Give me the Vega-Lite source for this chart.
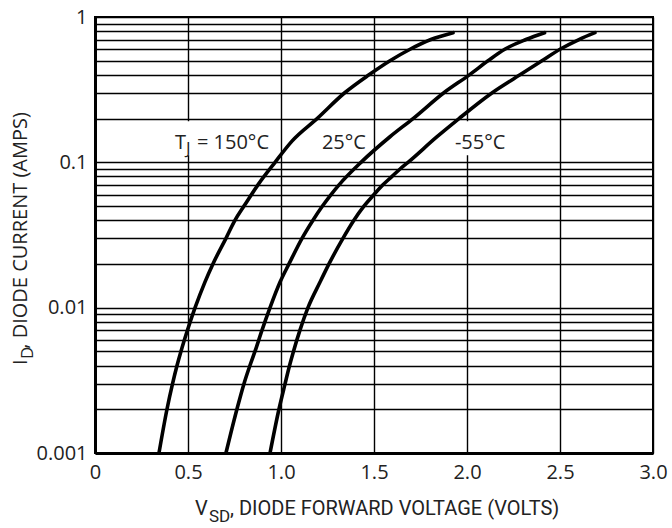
{
  "$schema": "https://vega.github.io/schema/vega-lite/v6.json",
  "width": 558,
  "height": 436,
  "autosize": "none",
  "padding": {"left": 95, "top": 17, "right": 19, "bottom": 75},
  "background": "white",
  "config": {
    "font": "Open Sans, sans-serif",
    "view": {"stroke": "black", "strokeWidth": 2},
    "axis": {
      "grid": true,
      "gridColor": "black",
      "gridWidth": 1.4,
      "gridOpacity": 1,
      "ticks": false,
      "domainColor": "black",
      "domainWidth": 3,
      "labelFontSize": 20,
      "labelColor": "#222222",
      "labelFlush": false,
      "labelOverlap": false,
      "labelFont": "Open Sans, sans-serif"
    }
  },
  "datasets": {
    "curves": [
      {"T": "150", "V": 0.344, "I": 0.001},
      {"T": "150", "V": 0.387, "I": 0.002},
      {"T": "150", "V": 0.417, "I": 0.003},
      {"T": "150", "V": 0.441, "I": 0.004},
      {"T": "150", "V": 0.462, "I": 0.005},
      {"T": "150", "V": 0.497, "I": 0.007},
      {"T": "150", "V": 0.538, "I": 0.01},
      {"T": "150", "V": 0.591, "I": 0.015},
      {"T": "150", "V": 0.634, "I": 0.02},
      {"T": "150", "V": 0.704, "I": 0.03},
      {"T": "150", "V": 0.753, "I": 0.04},
      {"T": "150", "V": 0.801, "I": 0.05},
      {"T": "150", "V": 0.876, "I": 0.07},
      {"T": "150", "V": 0.968, "I": 0.1},
      {"T": "150", "V": 1.059, "I": 0.14},
      {"T": "150", "V": 1.194, "I": 0.2},
      {"T": "150", "V": 1.341, "I": 0.3},
      {"T": "150", "V": 1.473, "I": 0.4},
      {"T": "150", "V": 1.586, "I": 0.5},
      {"T": "150", "V": 1.694, "I": 0.6},
      {"T": "150", "V": 1.806, "I": 0.7},
      {"T": "150", "V": 1.925, "I": 0.78},
      {"T": "25", "V": 0.704, "I": 0.001},
      {"T": "25", "V": 0.763, "I": 0.002},
      {"T": "25", "V": 0.801, "I": 0.003},
      {"T": "25", "V": 0.833, "I": 0.004},
      {"T": "25", "V": 0.860, "I": 0.005},
      {"T": "25", "V": 0.898, "I": 0.007},
      {"T": "25", "V": 0.941, "I": 0.01},
      {"T": "25", "V": 0.995, "I": 0.015},
      {"T": "25", "V": 1.043, "I": 0.02},
      {"T": "25", "V": 1.113, "I": 0.03},
      {"T": "25", "V": 1.172, "I": 0.04},
      {"T": "25", "V": 1.223, "I": 0.05},
      {"T": "25", "V": 1.269, "I": 0.06},
      {"T": "25", "V": 1.312, "I": 0.07},
      {"T": "25", "V": 1.430, "I": 0.1},
      {"T": "25", "V": 1.586, "I": 0.15},
      {"T": "25", "V": 1.710, "I": 0.2},
      {"T": "25", "V": 1.874, "I": 0.3},
      {"T": "25", "V": 2.013, "I": 0.4},
      {"T": "25", "V": 2.113, "I": 0.5},
      {"T": "25", "V": 2.203, "I": 0.6},
      {"T": "25", "V": 2.317, "I": 0.7},
      {"T": "25", "V": 2.417, "I": 0.78},
      {"T": "-55", "V": 0.941, "I": 0.001},
      {"T": "-55", "V": 0.989, "I": 0.002},
      {"T": "-55", "V": 1.022, "I": 0.003},
      {"T": "-55", "V": 1.046, "I": 0.004},
      {"T": "-55", "V": 1.067, "I": 0.005},
      {"T": "-55", "V": 1.102, "I": 0.007},
      {"T": "-55", "V": 1.145, "I": 0.01},
      {"T": "-55", "V": 1.210, "I": 0.015},
      {"T": "-55", "V": 1.258, "I": 0.02},
      {"T": "-55", "V": 1.333, "I": 0.03},
      {"T": "-55", "V": 1.392, "I": 0.04},
      {"T": "-55", "V": 1.446, "I": 0.05},
      {"T": "-55", "V": 1.500, "I": 0.06},
      {"T": "-55", "V": 1.548, "I": 0.07},
      {"T": "-55", "V": 1.597, "I": 0.08},
      {"T": "-55", "V": 1.640, "I": 0.09},
      {"T": "-55", "V": 1.683, "I": 0.1},
      {"T": "-55", "V": 1.839, "I": 0.15},
      {"T": "-55", "V": 1.957, "I": 0.2},
      {"T": "-55", "V": 2.134, "I": 0.3},
      {"T": "-55", "V": 2.285, "I": 0.4},
      {"T": "-55", "V": 2.403, "I": 0.5},
      {"T": "-55", "V": 2.500, "I": 0.6},
      {"T": "-55", "V": 2.602, "I": 0.7},
      {"T": "-55", "V": 2.688, "I": 0.78}
    ],
    "bg": [
      {"V": 0.40, "V2": 0.93, "I": 0.112, "I2": 0.192},
      {"V": 1.91, "V2": 2.23, "I": 0.112, "I2": 0.192}
    ],
    "labels": [
      {"t": "T", "V": 0.430, "I": 0.1235},
      {"t": "= 150°C", "V": 0.548, "I": 0.1235},
      {"t": "25°C", "V": 1.22, "I": 0.1235},
      {"t": "-55°C", "V": 1.935, "I": 0.1235}
    ],
    "sublabels": [
      {"t": "J", "V": 0.489, "I": 0.1139}
    ],
    "xtitle": [
      {"t": "V", "V": 0.538, "I": 0.000374},
      {"t": ", DIODE FORWARD VOLTAGE (VOLTS)", "V": 0.726, "I": 0.000374}
    ],
    "xsub": [
      {"t": "SD", "V": 0.613, "I": 0.000336}
    ],
    "ytitle": [
      {"t": "I", "V": -0.366, "I": 0.00403},
      {"t": ", DIODE CURRENT (AMPS)", "V": -0.366, "I": 0.00522}
    ],
    "ysub": [
      {"t": "D", "V": -0.333, "I": 0.00443}
    ]
  },
  "encoding": {
    "x": {
      "field": "V",
      "type": "quantitative",
      "scale": {"domain": [0, 3], "nice": false, "zero": false},
      "axis": {
        "title": null,
        "values": [0, 0.5, 1, 1.5, 2, 2.5, 3],
        "labelExpr": "datum.value == 0 ? '0' : format(datum.value, '.1f')",
        "labelPadding": 9
      }
    },
    "y": {
      "field": "I",
      "type": "quantitative",
      "scale": {"type": "log", "domain": [0.001, 1], "nice": false},
      "axis": {
        "title": null,
        "format": "~g",
        "values": [0.001, 0.002, 0.003, 0.004, 0.005, 0.006, 0.007, 0.008, 0.009, 0.01, 0.02, 0.03, 0.04, 0.05, 0.06, 0.07, 0.08, 0.09, 0.1, 0.2, 0.3, 0.4, 0.5, 0.6, 0.7, 0.8, 0.9, 1],
        "labelExpr": "indexof(['1','0.1','0.01','0.001'], datum.label) >= 0 ? datum.label : ''",
        "labelPadding": 8
      }
    }
  },
  "layer": [
    {
      "data": {"name": "bg"},
      "mark": {"type": "rect", "color": "white"},
      "encoding": {
        "x2": {"field": "V2"},
        "y2": {"field": "I2"}
      }
    },
    {
      "data": {"name": "curves"},
      "mark": {"type": "line", "color": "black", "strokeWidth": 3.6, "strokeCap": "round", "interpolate": "monotone"},
      "encoding": {
        "detail": {"field": "T"}
      }
    },
    {
      "data": {"name": "labels"},
      "mark": {"type": "text", "align": "left", "baseline": "alphabetic", "fontSize": 20, "color": "#222222"},
      "encoding": {"text": {"field": "t"}}
    },
    {
      "data": {"name": "sublabels"},
      "mark": {"type": "text", "align": "left", "baseline": "alphabetic", "fontSize": 17, "color": "#222222"},
      "encoding": {"text": {"field": "t"}}
    },
    {
      "data": {"name": "xtitle"},
      "mark": {"type": "text", "align": "left", "baseline": "alphabetic", "font": "Roboto", "fontSize": 20, "color": "#222222"},
      "encoding": {"text": {"field": "t"}}
    },
    {
      "data": {"name": "xsub"},
      "mark": {"type": "text", "align": "left", "baseline": "alphabetic", "font": "Roboto", "fontSize": 17, "color": "#222222"},
      "encoding": {"text": {"field": "t"}}
    },
    {
      "data": {"name": "ytitle"},
      "mark": {"type": "text", "align": "left", "baseline": "alphabetic", "angle": 270, "fontSize": 20, "color": "#222222"},
      "encoding": {"text": {"field": "t"}}
    },
    {
      "data": {"name": "ysub"},
      "mark": {"type": "text", "align": "left", "baseline": "alphabetic", "angle": 270, "fontSize": 17, "color": "#222222"},
      "encoding": {"text": {"field": "t"}}
    }
  ]
}
